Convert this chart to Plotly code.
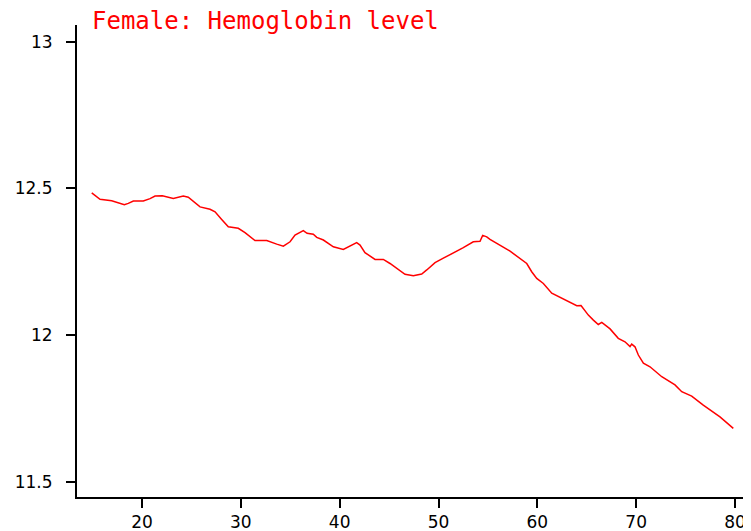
import plotly.graph_objects as go

# age (years) and smoothed hemoglobin level
age = [14.91, 15.75, 16.93, 17.60, 18.21, 18.61, 19.12, 20.13, 20.81, 21.32,
       22.05, 23.16, 24.17, 24.68, 25.36, 25.87, 26.88, 27.39, 28.06, 28.73,
       29.74, 30.42, 31.43, 32.62, 33.63, 34.30, 34.98, 35.48, 36.32, 36.70,
       37.33, 37.68, 38.35, 39.36, 40.37, 41.05, 41.72, 42.06, 42.56, 43.58,
       44.42, 45.09, 46.61, 47.45, 48.30, 48.81, 49.65, 50.49, 51.50, 52.51,
       53.52, 54.20, 54.47, 54.88, 55.21, 55.89, 57.24, 58.93, 59.43, 59.94,
       60.61, 61.46, 62.30, 63.14, 63.99, 64.42, 65.16, 65.67, 66.17, 66.52,
       67.02, 67.36, 68.19, 68.87, 69.38, 69.55, 69.88, 70.22, 70.73, 71.40,
       72.59, 73.93, 74.61, 75.62, 76.79, 78.48, 79.83]
hb = [12.485, 12.463, 12.458, 12.451, 12.444, 12.449, 12.457, 12.457, 12.465, 12.474,
      12.475, 12.466, 12.474, 12.470, 12.451, 12.437, 12.429, 12.420, 12.394, 12.369,
      12.364, 12.349, 12.322, 12.322, 12.310, 12.303, 12.318, 12.341, 12.356, 12.347,
      12.344, 12.333, 12.324, 12.301, 12.292, 12.303, 12.315, 12.307, 12.281, 12.258,
      12.258, 12.244, 12.207, 12.202, 12.208, 12.222, 12.247, 12.262, 12.279, 12.298,
      12.318, 12.320, 12.340, 12.335, 12.326, 12.313, 12.286, 12.244, 12.216, 12.193,
      12.176, 12.143, 12.129, 12.114, 12.100, 12.101, 12.068, 12.051, 12.036, 12.043,
      12.031, 12.021, 11.989, 11.977, 11.961, 11.969, 11.960, 11.932, 11.904, 11.892,
      11.858, 11.830, 11.807, 11.792, 11.761, 11.721, 11.682]

x_ticks = [20, 30, 40, 50, 60, 70, 80]
y_ticks = [11.5, 12, 12.5, 13]
y_labels = ["11.5", "12", "12.5", "13"]

fig = go.Figure()
fig.add_trace(go.Scatter(x=age, y=hb, mode="lines",
                         line=dict(color="#ff0000", width=1.5),
                         showlegend=False, hoverinfo="skip"))

# page body has an 8px margin, so the figure is 8px smaller than the window
fig.update_layout(
    width=743, height=523,
    margin=dict(l=69, r=0, t=17, b=34),
    paper_bgcolor="white", plot_bgcolor="white",
    title=dict(text="Female: Hemoglobin level", xref="container", yref="container",
               x=84 / 743, xanchor="left", y=1 - 4 / 523, yanchor="top",
               font=dict(family="DejaVu Sans Mono", size=24, color="#ff0000")),
    font=dict(family="DejaVu Sans", size=17, color="black"),
)
fig.update_xaxes(range=[13.42, 81.62], tickvals=x_ticks, ticks="outside", ticklen=9,
                 tickwidth=2, tickcolor="black", showline=True, linewidth=2,
                 linecolor="black", showgrid=False, zeroline=False, automargin=False)
fig.update_yaxes(range=[11.448, 13.057], tickvals=y_ticks, ticktext=y_labels,
                 ticks="outside", ticklen=9, tickwidth=2, tickcolor="black",
                 ticklabelstandoff=10, showline=True, linewidth=2, linecolor="black",
                 showgrid=False, zeroline=False, automargin=False)

fig.write_html("out.html")
